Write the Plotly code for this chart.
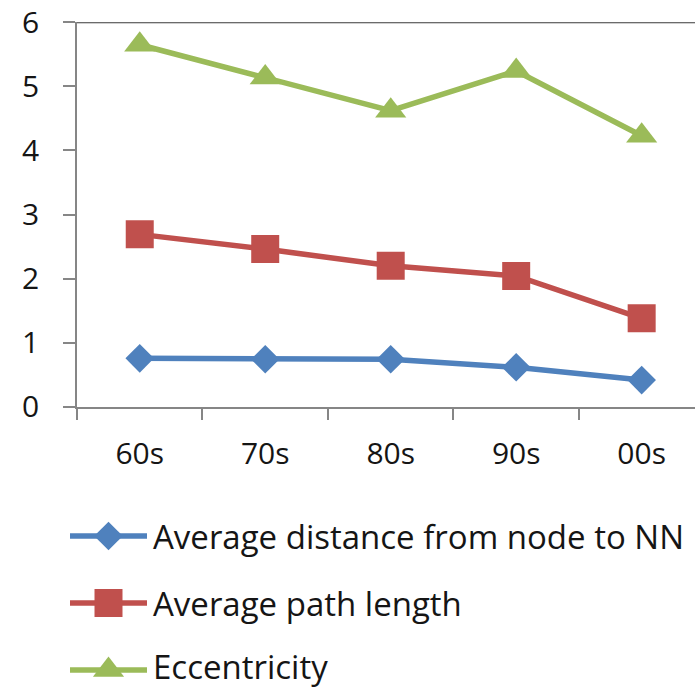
import plotly.graph_objects as go

# ---- data ----
categories = ["60s", "70s", "80s", "90s", "00s"]
avg_dist_nn = [0.755, 0.74, 0.74, 0.615, 0.415]
avg_path_len = [2.69, 2.46, 2.20, 2.04, 1.38]
eccentricity = [5.65, 5.14, 4.62, 5.24, 4.23]
series_names = ["Average distance from node to NN", "Average path length", "Eccentricity"]
y_ticks = [0, 1, 2, 3, 4, 5, 6]

# ---- styles ----
W, H = 695, 690
FONT = "Open Sans"
TXT = "#151515"
colors = ["#4F81BD", "#C0504D", "#9BBB59"]
symbols = ["diamond", "square", "triangle-up"]
msizes = [22, 28, 27]
series = [avg_dist_nn, avg_path_len, eccentricity]

plot_left, plot_top, plot_bottom = 77, 22.3, 406.7

fig = go.Figure()
for vals, name, c, s, ms in zip(series, series_names, colors, symbols, msizes):
    fig.add_trace(go.Scatter(
        x=categories, y=vals, name=name, mode="lines+markers",
        line=dict(color=c, width=5.5),
        marker=dict(symbol=s, size=ms, color=c, line=dict(width=0)),
        showlegend=False, xaxis="x", yaxis="y",
    ))

# custom legend drawn on an overlay pixel axis
key_rows = [536, 603, 670]
text_rows = [536, 603, 666]
key_x0, key_x1, text_x = 70, 147, 151
for name, c, s, ms, ky, ty in zip(series_names, colors, symbols, msizes, key_rows, text_rows):
    fig.add_trace(go.Scatter(
        x=[key_x0, key_x1], y=[ky, ky], mode="lines",
        line=dict(color=c, width=5.5), showlegend=False,
        xaxis="x2", yaxis="y2", hoverinfo="skip",
    ))
    fig.add_trace(go.Scatter(
        x=[(key_x0 + key_x1) / 2], y=[ky], mode="markers",
        marker=dict(symbol=s, size=ms, color=c, line=dict(width=0)),
        showlegend=False, xaxis="x2", yaxis="y2", hoverinfo="skip",
    ))
    fig.add_annotation(
        x=text_x, y=ty, xref="x2", yref="y2", text=name, showarrow=False,
        xanchor="left", yanchor="middle",
        font=dict(family=FONT, size=33, color=TXT),
    )

fig.update_layout(
    template="none",
    width=W, height=H,
    margin=dict(l=0, r=0, t=0, b=0, pad=0),
    paper_bgcolor="white", plot_bgcolor="rgba(0,0,0,0)",
    showlegend=False,
    xaxis=dict(
        domain=[plot_left / W, 1], type="category", range=[-0.5, 4.425],
        showline=True, linecolor="#868686", linewidth=1.5,
        ticks="outside", ticklen=12, tickcolor="#868686", tickwidth=1.5,
        tickson="boundaries", showgrid=False, zeroline=False, automargin=False,
        tickfont=dict(family=FONT, size=30, color=TXT),
        ticklabelstandoff=20, anchor="y",
    ),
    yaxis=dict(
        domain=[(H - plot_bottom) / H, (H - plot_top) / H], range=[0, 6],
        tickvals=y_ticks, showline=True, linecolor="#868686", linewidth=1.5,
        ticks="outside", ticklen=12, tickcolor="#868686", tickwidth=1.5,
        showgrid=False, zeroline=False, automargin=False,
        tickfont=dict(family=FONT, size=30, color=TXT),
        ticklabelstandoff=18, anchor="x",
    ),
    xaxis2=dict(domain=[0, 1], range=[0, W], visible=False, anchor="y2",
                fixedrange=True, automargin=False),
    yaxis2=dict(domain=[0, 1], range=[H, 0], visible=False, anchor="x2",
                fixedrange=True, automargin=False),
    shapes=[dict(type="line", xref="x domain", yref="y", x0=0, x1=1, y0=6, y1=6,
                 line=dict(color="#3a3a3a", width=2))],
)

fig.write_html("out.html")
